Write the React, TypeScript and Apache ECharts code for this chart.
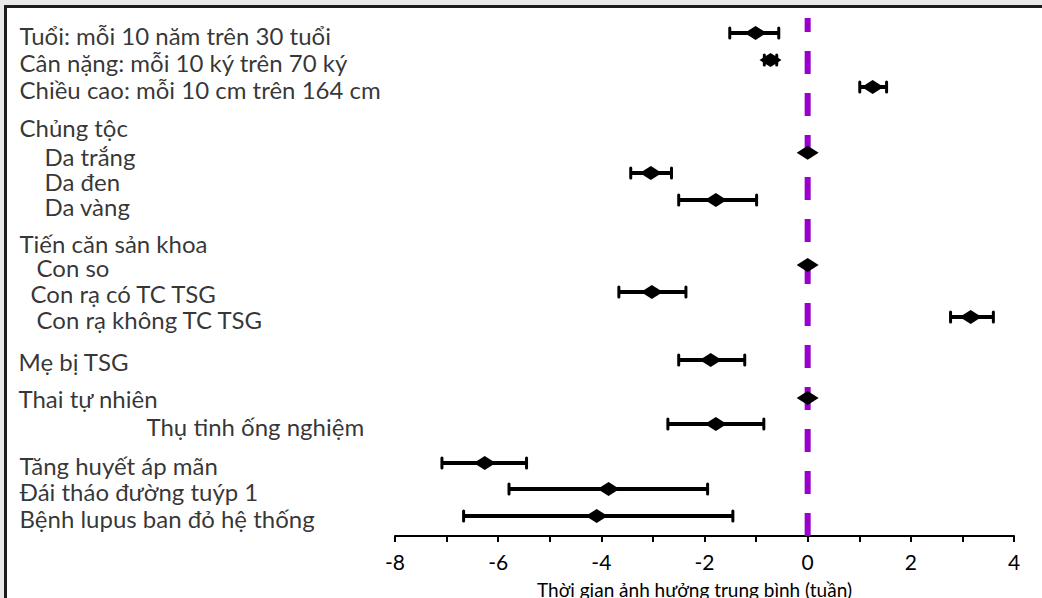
import { useEffect, useRef } from "react";
import * as echarts from "echarts";

// Left-hand labels (text rows of the forest plot)
const labelTexts = [
  "Tuổi: mỗi 10 năm trên 30 tuổi",
  "Cân nặng: mỗi 10 ký trên 70 ký",
  "Chiều cao: mỗi 10 cm trên 164 cm",
  "Chủng tộc",
  "Da trắng",
  "Da đen",
  "Da vàng",
  "Tiến căn sản khoa",
  "Con so",
  "Con rạ có TC TSG",
  "Con rạ không TC TSG",
  "Mẹ bị TSG",
  "Thai tự nhiên",
  "Thụ tinh ống nghiệm",
  "Tăng huyết áp mãn",
  "Đái tháo đường tuýp 1",
  "Bệnh lupus ban đỏ hệ thống",
];
// row position of each label (row units on the hidden vertical scale)
const labelRows = [1.02, 2.05, 3.07, 4.52, 5.62, 6.57, 7.51, 8.92, 9.83, 10.82, 11.8, 13.4, 14.8, 15.86, 17.34, 18.33, 19.35];
const labelIndents = [20, 20, 20, 20, 45, 45, 45, 20, 37, 31, 37, 19, 19, 147, 20, 20, 20];

// Estimates (mean effect in weeks) with intervals
const estNames = [
  "Tuổi", "Cân nặng", "Chiều cao", "Da trắng", "Da đen", "Da vàng",
  "Con so", "Con rạ có TC TSG", "Con rạ không TC TSG", "Mẹ bị TSG",
  "Thai tự nhiên", "Thụ tinh ống nghiệm", "Tăng huyết áp mãn",
  "Đái tháo đường tuýp 1", "Bệnh lupus ban đỏ hệ thống",
];
const estRows = [0.91, 1.94, 2.96, 5.46, 6.22, 7.25, 9.72, 10.74, 11.69, 13.32, 14.76, 15.75, 17.23, 18.22, 19.24];
const estimates = [-1.01, -0.72, 1.26, 0, -3.04, -1.78, 0, -3.02, 3.16, -1.88, 0, -1.78, -6.26, -3.86, -4.09];
const lowers = [-1.51, -0.84, 1.01, null, -3.43, -2.5, null, -3.66, 2.77, -2.5, null, -2.71, -7.09, -5.79, -6.67];
const uppers = [-0.56, -0.6, 1.53, null, -2.64, -0.99, null, -2.36, 3.6, -1.22, null, -0.85, -5.45, -1.94, -1.45];

const xTicks = { min: -8, max: 4, interval: 2 };
const refLine = [[0, 20], [0, 0.34]];
const xTitle = "Thời gian ảnh hưởng trung bình (tuần)";

const FONT = "Lato, 'Open Sans', sans-serif";

export default function App() {
  const ref = useRef<HTMLDivElement>(null);
  useEffect(() => {
    if (!ref.current) return;
    const chart = echarts.init(ref.current, null, { renderer: "svg" });
    const errData = estimates
      .map((_, i) => (lowers[i] == null ? null : [lowers[i], uppers[i], estRows[i]]))
      .filter((d) => d != null);
    const option: any = {
      animation: false,
      backgroundColor: "#ffffff",
      textStyle: { fontFamily: FONT },
      grid: [
        { left: 395, right: 28, top: 9, bottom: 62, containLabel: false, outerBoundsMode: "none" },
        { left: 0, width: 395, top: 9, bottom: 62, containLabel: false, outerBoundsMode: "none" },
      ],
      xAxis: [
        {
          type: "value",
          gridIndex: 0,
          position: "bottom",
          min: xTicks.min,
          max: xTicks.max,
          interval: xTicks.interval,
          axisLine: { show: true, onZero: false, lineStyle: { color: "#000", width: 2 } },
          axisTick: { show: true, length: 6, lineStyle: { color: "#000", width: 2 } },
          minorTick: { show: true, splitNumber: 2, length: 6, lineStyle: { color: "#000", width: 2 } },
          splitLine: { show: false },
          minorSplitLine: { show: false },
          axisLabel: { color: "#000", fontSize: 21, margin: 15, fontFamily: FONT },
          name: xTitle,
          nameLocation: "middle",
          nameGap: 44,
          nameTextStyle: { color: "#000", fontSize: 19, fontFamily: FONT, padding: [0, 20, 0, 0] },
        },
        { type: "value", gridIndex: 1, min: 0, max: 395, show: false },
      ],
      yAxis: [
        { type: "value", gridIndex: 0, min: 0, max: 20, inverse: true, show: false },
        { type: "value", gridIndex: 1, min: 0, max: 20, inverse: true, show: false },
      ],
      graphic: [
        { type: "rect", shape: { x: 0, y: 0, width: 1042, height: 5 }, style: { fill: "#e9e9e9" }, silent: true },
        { type: "rect", shape: { x: 0, y: 0, width: 4, height: 598 }, style: { fill: "#e9e9e9" }, silent: true },
        { type: "rect", shape: { x: 4, y: 5, width: 1038, height: 3 }, style: { fill: "#1c1c1c" }, silent: true },
        { type: "rect", shape: { x: 4, y: 5, width: 3, height: 593 }, style: { fill: "#1c1c1c" }, silent: true },
      ],
      series: [
        {
          type: "line",
          xAxisIndex: 0,
          yAxisIndex: 0,
          data: refLine,
          symbol: "none",
          z: 1,
          lineStyle: { color: "#9900cc", width: 6, type: [23, 19], cap: "butt" },
          silent: true,
        },
        {
          type: "custom",
          xAxisIndex: 0,
          yAxisIndex: 0,
          z: 2,
          data: errData,
          encode: { x: [0, 1], y: 2 },
          renderItem: (params: any, api: any) => {
            const lo = api.value(0);
            const hi = api.value(1);
            const y = api.value(2);
            const p1 = api.coord([lo, y]);
            const p2 = api.coord([hi, y]);
            const cap = 5;
            return {
              type: "group",
              children: [
                { type: "line", shape: { x1: p1[0], y1: p1[1], x2: p2[0], y2: p2[1] }, style: { stroke: "#000", lineWidth: 4 } },
                { type: "line", shape: { x1: p1[0], y1: p1[1] - cap, x2: p1[0], y2: p1[1] + cap }, style: { stroke: "#000", lineWidth: 3, lineCap: "round" } },
                { type: "line", shape: { x1: p2[0], y1: p2[1] - cap, x2: p2[0], y2: p2[1] + cap }, style: { stroke: "#000", lineWidth: 3, lineCap: "round" } },
              ],
            };
          },
          silent: true,
        },
        {
          type: "scatter",
          xAxisIndex: 0,
          yAxisIndex: 0,
          z: 3,
          symbol: "diamond",
          symbolSize: [22, 14],
          itemStyle: { color: "#000", opacity: 1 },
          data: estimates.map((v, i) => ({ name: estNames[i], value: [v, estRows[i]] })),
          silent: true,
        },
        {
          type: "scatter",
          xAxisIndex: 1,
          yAxisIndex: 1,
          symbolSize: 1,
          clip: false,
          itemStyle: { color: "rgba(0,0,0,0)" },
          data: labelTexts.map((t, i) => ({
            name: t,
            value: [0, labelRows[i]],
            label: { position: [labelIndents[i], 0] },
          })),
          label: {
            show: true,
            formatter: "{b}",
            color: "#000",
            fontSize: 24,
            lineHeight: 20,
            fontFamily: FONT,
            align: "left",
            verticalAlign: "middle",
          },
          silent: true,
        },
      ],
    };
    chart.setOption(option);
    return () => chart.dispose();
  }, []);
  return (
    <div
      ref={ref}
      style={{ position: "absolute", left: 0, top: 0, width: 1042, height: 598, background: "#fff" }}
    />
  );
}
